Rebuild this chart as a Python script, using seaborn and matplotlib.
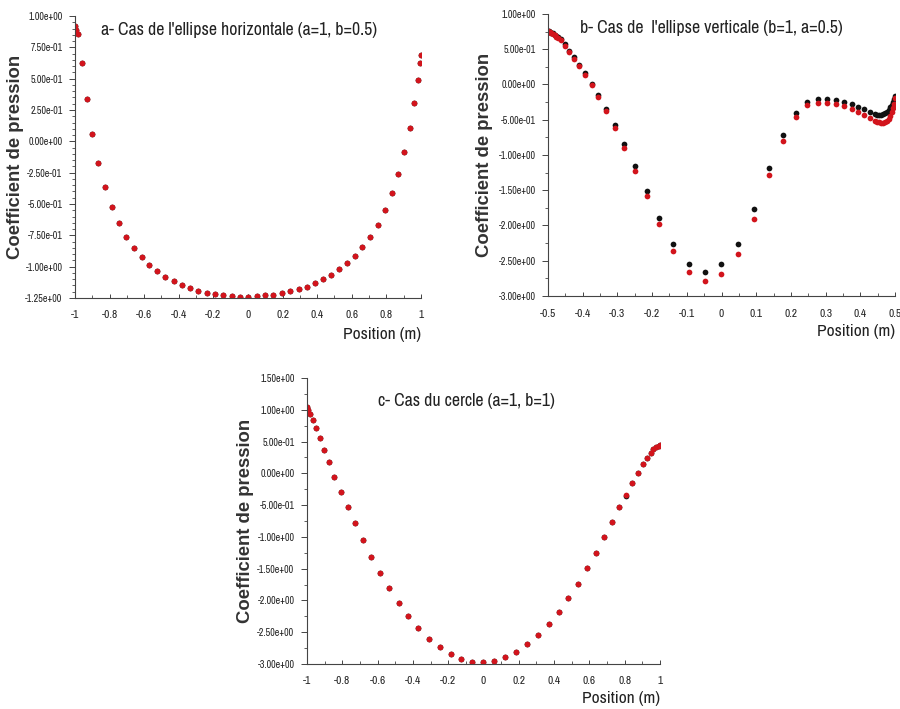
import numpy as np
import pandas as pd
import matplotlib
matplotlib.use("Agg")
import matplotlib.pyplot as plt
import seaborn as sns
from matplotlib import font_manager
from matplotlib.ticker import MultipleLocator, FuncFormatter

# a- ellipse horizontale (a=1, b=0.5)
xa = [-1.0, -0.994, -0.981, -0.958, -0.933, -0.902, -0.865, -0.827, -0.788, -0.748,
      -0.705, -0.661, -0.615, -0.570, -0.524, -0.478, -0.430, -0.382, -0.335, -0.287,
      -0.239, -0.191, -0.143, -0.094, -0.046, 0.0, 0.050, 0.100, 0.146, 0.196,
      0.243, 0.293, 0.339, 0.385, 0.431, 0.479, 0.526, 0.572, 0.617, 0.661,
      0.705, 0.750, 0.792, 0.830, 0.865, 0.904, 0.936, 0.961, 0.983, 0.994, 1.0]
ya_red = [0.920, 0.888, 0.856, 0.627, 0.334, 0.060, -0.171, -0.366, -0.526, -0.653,
          -0.762, -0.850, -0.922, -0.983, -1.034, -1.079, -1.114, -1.143, -1.167, -1.194,
          -1.210, -1.220, -1.228, -1.236, -1.242, -1.242, -1.236, -1.228, -1.226, -1.212,
          -1.197, -1.180, -1.159, -1.133, -1.101, -1.063, -1.018, -0.970, -0.912, -0.842,
          -0.760, -0.664, -0.550, -0.416, -0.259, -0.086, 0.108, 0.308, 0.489, 0.622, 0.689]
ya_black = ya_red

# b- ellipse verticale (b=1, a=0.5)
xb = [-0.5, -0.497, -0.494, -0.490, -0.486, -0.481, -0.476, -0.470, -0.464, -0.452,
      -0.439, -0.426, -0.411, -0.394, -0.374, -0.355, -0.333, -0.307, -0.281, -0.249,
      -0.215, -0.181, -0.139, -0.095, -0.049, -0.001, 0.047, 0.093, 0.138, 0.178,
      0.215, 0.246, 0.278, 0.304, 0.330, 0.353, 0.376, 0.393, 0.411, 0.428,
      0.442, 0.448, 0.454, 0.460, 0.465, 0.471, 0.477, 0.482, 0.486, 0.490,
      0.494, 0.497, 0.5]
yb_black = [0.765, 0.757, 0.748, 0.737, 0.724, 0.708, 0.690, 0.668, 0.640, 0.570,
            0.480, 0.385, 0.280, 0.163, 0.010, -0.150, -0.345, -0.579, -0.844, -1.156,
            -1.506, -1.889, -2.258, -2.551, -2.660, -2.551, -2.267, -1.771, -1.180, -0.712,
            -0.400, -0.244, -0.206, -0.206, -0.220, -0.244, -0.277, -0.319, -0.348, -0.390,
            -0.418, -0.428, -0.433, -0.428, -0.418, -0.405, -0.390, -0.360, -0.319, -0.285,
            -0.248, -0.205, -0.163]
yb_red = [0.760, 0.750, 0.740, 0.728, 0.714, 0.697, 0.678, 0.655, 0.626, 0.552,
          0.458, 0.360, 0.258, 0.135, -0.012, -0.177, -0.381, -0.617, -0.896, -1.222,
          -1.586, -1.979, -2.357, -2.660, -2.783, -2.688, -2.404, -1.903, -1.288, -0.797,
          -0.465, -0.291, -0.258, -0.258, -0.277, -0.305, -0.352, -0.395, -0.433, -0.480,
          -0.513, -0.526, -0.536, -0.541, -0.541, -0.530, -0.513, -0.485, -0.447, -0.395,
          -0.338, -0.270, -0.196]

# c- cercle (a=1, b=1)
xc = [-1.0, -0.992, -0.985, -0.968, -0.951, -0.928, -0.904, -0.877, -0.845, -0.809,
      -0.769, -0.728, -0.682, -0.637, -0.586, -0.535, -0.480, -0.425, -0.369, -0.308,
      -0.248, -0.185, -0.127, -0.064, -0.002, 0.061, 0.123, 0.185, 0.248, 0.308,
      0.369, 0.427, 0.480, 0.535, 0.586, 0.637, 0.682, 0.728, 0.769, 0.807,
      0.843, 0.877, 0.905, 0.928, 0.947, 0.962, 0.977, 0.993, 1.0]
yc_red = [1.039, 1.002, 0.934, 0.839, 0.708, 0.556, 0.373, 0.173, -0.057, -0.293,
          -0.535, -0.786, -1.054, -1.316, -1.562, -1.809, -2.040, -2.249, -2.433, -2.601,
          -2.737, -2.847, -2.921, -2.963, -2.974, -2.953, -2.895, -2.811, -2.691, -2.538,
          -2.370, -2.181, -1.966, -1.741, -1.494, -1.253, -1.007, -0.771, -0.534, -0.341,
          -0.157, 0.010, 0.142, 0.246, 0.325, 0.378, 0.410, 0.435, 0.440]
yc_black = yc_red[:39] + [-0.360] + yc_red[40:]

panels = [
    dict(x=xa, yb=ya_black, yr=ya_red, title="a- Cas de l'ellipse horizontale (a=1, b=0.5)",
         pos=[0.0833, 0.5797, 0.3844, 0.3977], xlim=(-1, 1), ylim=(-1.25, 1.0),
         xmaj=0.2, xmin=0.1, ymaj=0.25, ymin=0.05, title_xy=(0.075, 0.95),
         ylab_x=-0.147, xlab_y=-0.104),
    dict(x=xb, yb=yb_black, yr=yb_red, title="b- Cas de  l'ellipse verticale (b=1, a=0.5)",
         pos=[0.6089, 0.5825, 0.3856, 0.3978], xlim=(-0.5, 0.5), ylim=(-3.0, 1.0),
         xmaj=0.1, xmin=0.05, ymaj=0.5, ymin=0.25, title_xy=(0.092, 0.95),
         ylab_x=-0.158, xlab_y=-0.101),
    dict(x=xc, yb=yc_black, yr=yc_red, title="c- Cas du cercle (a=1, b=1)",
         pos=[0.3411, 0.0635, 0.3922, 0.4034], xlim=(-1, 1), ylim=(-3.0, 1.5),
         xmaj=0.2, xmin=0.1, ymaj=0.5, ymin=0.25, title_xy=(0.2, 0.92),
         ylab_x=-0.150, xlab_y=-0.094),
]

sns.set_style("ticks")
plt.rcParams["font.family"] = ["Liberation Sans", "DejaVu Sans"]

# look for a narrow / condensed face for the Arial Narrow look
names = sorted({f.name for f in font_manager.fontManager.ttflist})
cands = [n for n in names if "Narrow" in n] + [n for n in names if "Condensed" in n]
if cands:
    narrow = [cands[0], "Liberation Sans", "DejaVu Sans"]
    shrink = 1.0
else:
    narrow = ["Liberation Sans", "DejaVu Sans"]
    shrink = 0.82

fig = plt.figure(figsize=(9, 7.09), dpi=100)


def sci_fmt(v, pos):
    if abs(v) < 1e-12:
        return "0.00e+00"
    return f"{v:.2e}"


for p in panels:
    ax = fig.add_axes(p["pos"])
    df = pd.DataFrame({"x": p["x"], "black": p["yb"], "red": p["yr"]})
    sns.scatterplot(data=df, x="x", y="black", ax=ax, color="#111111", s=17,
                    linewidth=0, legend=False)
    sns.scatterplot(data=df, x="x", y="red", ax=ax, color="#d2141c", s=17,
                    linewidth=0, legend=False)
    ax.set_xlim(*p["xlim"])
    ax.set_ylim(*p["ylim"])
    for side in ["top", "right"]:
        ax.spines[side].set_visible(False)
    for side in ["left", "bottom"]:
        ax.spines[side].set_color("#444444")
        ax.spines[side].set_linewidth(0.8)
    ax.xaxis.set_major_locator(MultipleLocator(p["xmaj"]))
    ax.xaxis.set_minor_locator(MultipleLocator(p["xmin"]))
    ax.yaxis.set_major_locator(MultipleLocator(p["ymaj"]))
    ax.yaxis.set_minor_locator(MultipleLocator(p["ymin"]))
    ax.xaxis.set_major_formatter(FuncFormatter(lambda v, pos: f"{v:g}" if abs(v) > 1e-9 else "0"))
    ax.yaxis.set_major_formatter(FuncFormatter(sci_fmt))
    ax.tick_params(axis="y", which="major", direction="out", length=4, width=0.7,
                   colors="#444444", labelsize=7.2 * shrink, labelcolor="#222222", pad=5)
    ax.tick_params(axis="y", which="minor", direction="out", length=2, width=0.6, colors="#444444")
    ax.tick_params(axis="x", which="major", direction="in", length=3, width=0.7,
                   colors="#444444", labelsize=8.2 * shrink, labelcolor="#222222", pad=9)
    ax.tick_params(axis="x", which="minor", direction="in", length=2, width=0.6, colors="#444444")
    for lab in ax.get_xticklabels() + ax.get_yticklabels():
        lab.set_family(narrow)
    ax.set_xlabel("Position (m)", fontsize=12.5 * shrink, family=narrow, loc="right",
                  color="#222222")
    ax.xaxis.set_label_coords(1.0, p["xlab_y"])
    ax.set_ylabel("Coefficient de pression", fontsize=13.3, fontweight="bold",
                  color="#333333")
    ax.yaxis.set_label_coords(p["ylab_x"], 0.5)
    ax.text(p["title_xy"][0], p["title_xy"][1], p["title"], transform=ax.transAxes,
            fontsize=12.8 * shrink, family=narrow, ha="left", va="center", color="#222222")

fig.savefig("out.png", dpi=100)
